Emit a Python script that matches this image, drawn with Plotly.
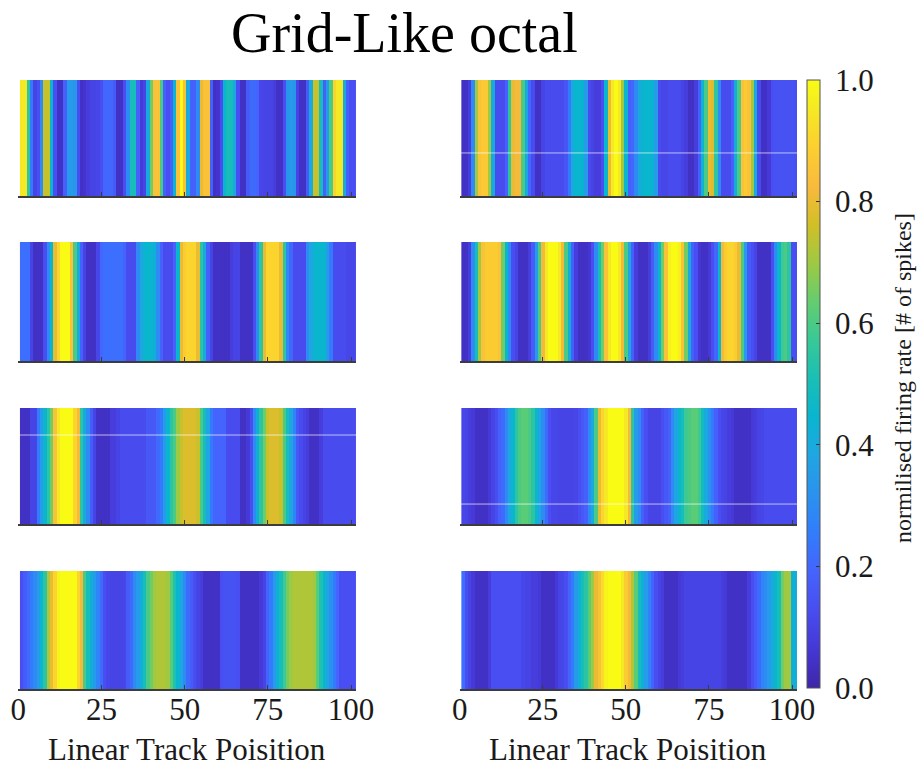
import plotly.graph_objects as go

# Track bins (1 cm each) along the linear track
positions = list(range(1, 102))

# Normalised firing rate per bin for the eight grid-like cells
cell_1 = [0.95, 0.95, 0.55, 0.25, 0.10, 0.13, 0.30, 0.75, 0.75, 0.45,
          0.13, 0.04, 0.04, 0.18, 0.35, 0.35, 0.33, 0.13, 0.04, 0.05,
          0.08, 0.10, 0.10, 0.11, 0.13, 0.20, 0.20, 0.20, 0.17, 0.04,
          0.04, 0.13, 0.30, 0.50, 0.50, 0.18, 0.07, 0.10, 0.40, 0.65,
          0.85, 0.85, 0.60, 0.18, 0.13, 0.18, 0.45, 0.85, 1.00, 0.85,
          0.40, 0.18, 0.18, 0.30, 0.80, 0.85, 0.85, 0.18, 0.04, 0.05,
          0.13, 0.45, 0.50, 0.50, 0.38, 0.13, 0.04, 0.04, 0.17, 0.21,
          0.21, 0.19, 0.11, 0.10, 0.10, 0.10, 0.08, 0.04, 0.04, 0.13,
          0.33, 0.35, 0.33, 0.10, 0.04, 0.04, 0.17, 0.40, 0.75, 0.75,
          0.50, 0.18, 0.35, 0.60, 0.90, 0.95, 0.95, 0.40, 0.18, 0.13,
          0.13]
cell_2 = [0.04, 0.04, 0.08, 0.30, 0.70, 0.85, 0.87, 0.87, 0.70, 0.40,
          0.12, 0.12, 0.12, 0.18, 0.55, 0.80, 0.82, 0.82, 0.60, 0.40,
          0.20, 0.12, 0.04, 0.04, 0.10, 0.12, 0.12, 0.12, 0.12, 0.12,
          0.12, 0.15, 0.25, 0.40, 0.45, 0.45, 0.44, 0.35, 0.12, 0.10,
          0.08, 0.08, 0.13, 0.45, 0.80, 0.95, 1.00, 0.95, 0.70, 0.45,
          0.18, 0.20, 0.30, 0.40, 0.44, 0.45, 0.45, 0.44, 0.35, 0.12,
          0.11, 0.11, 0.12, 0.12, 0.12, 0.12, 0.10, 0.08, 0.04, 0.04,
          0.08, 0.18, 0.45, 0.60, 0.80, 0.78, 0.55, 0.30, 0.12, 0.12,
          0.12, 0.18, 0.40, 0.60, 0.85, 0.87, 0.85, 0.70, 0.40, 0.12,
          0.04, 0.04, 0.07, 0.13, 0.14, 0.14, 0.14, 0.14, 0.14, 0.14,
          0.13]
cell_3 = [0.22, 0.22, 0.22, 0.10, 0.04, 0.04, 0.04, 0.13, 0.30, 0.45,
          0.80, 0.90, 1.00, 1.00, 1.00, 0.85, 0.60, 0.40, 0.18, 0.10,
          0.04, 0.04, 0.04, 0.11, 0.20, 0.22, 0.22, 0.22, 0.22, 0.22,
          0.22, 0.19, 0.12, 0.12, 0.12, 0.30, 0.38, 0.45, 0.45, 0.45,
          0.42, 0.30, 0.18, 0.12, 0.12, 0.12, 0.18, 0.45, 0.80, 0.88,
          0.90, 0.90, 0.90, 0.80, 0.55, 0.40, 0.18, 0.10, 0.04, 0.04,
          0.04, 0.04, 0.04, 0.08, 0.10, 0.10, 0.04, 0.04, 0.04, 0.04,
          0.13, 0.30, 0.55, 0.80, 0.90, 0.90, 0.90, 0.90, 0.80, 0.55,
          0.30, 0.20, 0.12, 0.12, 0.12, 0.12, 0.30, 0.38, 0.45, 0.45,
          0.45, 0.45, 0.35, 0.25, 0.12, 0.12, 0.12, 0.12, 0.11, 0.11,
          0.11]
cell_4 = [0.04, 0.04, 0.08, 0.30, 0.50, 0.70, 0.85, 0.88, 0.88, 0.88,
          0.88, 0.85, 0.65, 0.45, 0.30, 0.13, 0.10, 0.04, 0.04, 0.04,
          0.08, 0.17, 0.35, 0.60, 0.82, 0.95, 1.00, 1.00, 1.00, 0.95,
          0.82, 0.60, 0.42, 0.18, 0.08, 0.04, 0.04, 0.04, 0.06, 0.13,
          0.30, 0.50, 0.65, 0.85, 0.95, 1.00, 1.00, 0.95, 0.82, 0.60,
          0.38, 0.18, 0.08, 0.04, 0.04, 0.04, 0.08, 0.17, 0.30, 0.45,
          0.65, 0.85, 0.97, 1.00, 1.00, 0.97, 0.85, 0.65, 0.40, 0.18,
          0.13, 0.06, 0.04, 0.04, 0.07, 0.13, 0.20, 0.45, 0.82, 0.88,
          0.90, 0.90, 0.88, 0.80, 0.60, 0.35, 0.17, 0.13, 0.10, 0.04,
          0.04, 0.04, 0.04, 0.13, 0.30, 0.45, 0.58, 0.60, 0.55, 0.13,
          0.13]
cell_5 = [0.04, 0.04, 0.04, 0.10, 0.10, 0.25, 0.35, 0.45, 0.55, 0.65,
          0.85, 0.95, 1.00, 1.00, 1.00, 1.00, 0.90, 0.82, 0.55, 0.40,
          0.30, 0.17, 0.10, 0.04, 0.04, 0.04, 0.04, 0.08, 0.08, 0.10,
          0.12, 0.12, 0.12, 0.12, 0.12, 0.12, 0.12, 0.12, 0.16, 0.16,
          0.16, 0.21, 0.25, 0.35, 0.45, 0.55, 0.60, 0.70, 0.75, 0.78,
          0.78, 0.78, 0.78, 0.75, 0.60, 0.50, 0.38, 0.25, 0.19, 0.19,
          0.19, 0.19, 0.12, 0.12, 0.12, 0.12, 0.04, 0.04, 0.07, 0.13,
          0.30, 0.42, 0.55, 0.65, 0.75, 0.78, 0.78, 0.78, 0.75, 0.60,
          0.50, 0.38, 0.28, 0.16, 0.12, 0.10, 0.08, 0.04, 0.04, 0.04,
          0.08, 0.12, 0.12, 0.12, 0.12, 0.12, 0.12, 0.12, 0.12, 0.12,
          0.12]
cell_6 = [0.11, 0.10, 0.08, 0.07, 0.04, 0.04, 0.04, 0.04, 0.07, 0.10,
          0.13, 0.18, 0.21, 0.30, 0.38, 0.45, 0.55, 0.60, 0.62, 0.62,
          0.60, 0.55, 0.45, 0.38, 0.30, 0.21, 0.13, 0.11, 0.11, 0.10,
          0.10, 0.10, 0.10, 0.10, 0.11, 0.13, 0.16, 0.18, 0.30, 0.40,
          0.60, 0.80, 0.90, 0.95, 1.00, 1.00, 1.00, 1.00, 1.00, 0.95,
          0.82, 0.55, 0.35, 0.30, 0.18, 0.13, 0.10, 0.10, 0.10, 0.10,
          0.13, 0.16, 0.18, 0.30, 0.38, 0.45, 0.50, 0.58, 0.60, 0.62,
          0.62, 0.58, 0.48, 0.40, 0.32, 0.25, 0.18, 0.13, 0.11, 0.10,
          0.08, 0.07, 0.04, 0.04, 0.04, 0.04, 0.04, 0.07, 0.08, 0.10,
          0.11, 0.12, 0.12, 0.12, 0.12, 0.12, 0.12, 0.12, 0.12, 0.12,
          0.12]
cell_7 = [0.13, 0.17, 0.21, 0.25, 0.30, 0.35, 0.45, 0.55, 0.72, 0.80,
          0.90, 0.98, 1.00, 1.00, 1.00, 1.00, 1.00, 0.90, 0.82, 0.60,
          0.50, 0.42, 0.35, 0.28, 0.21, 0.13, 0.11, 0.10, 0.10, 0.10,
          0.10, 0.11, 0.17, 0.21, 0.30, 0.35, 0.42, 0.50, 0.60, 0.65,
          0.70, 0.72, 0.72, 0.72, 0.70, 0.62, 0.52, 0.45, 0.38, 0.30,
          0.21, 0.17, 0.13, 0.10, 0.08, 0.04, 0.04, 0.04, 0.04, 0.04,
          0.13, 0.14, 0.14, 0.14, 0.14, 0.13, 0.04, 0.04, 0.04, 0.04,
          0.04, 0.04, 0.07, 0.10, 0.19, 0.25, 0.35, 0.42, 0.50, 0.58,
          0.65, 0.70, 0.72, 0.72, 0.72, 0.72, 0.72, 0.72, 0.70, 0.62,
          0.52, 0.45, 0.38, 0.32, 0.25, 0.19, 0.13, 0.13, 0.13, 0.13,
          0.13]
cell_8 = [0.22, 0.13, 0.10, 0.07, 0.04, 0.04, 0.04, 0.04, 0.08, 0.13,
          0.13, 0.13, 0.13, 0.13, 0.13, 0.13, 0.13, 0.13, 0.11, 0.10,
          0.10, 0.08, 0.08, 0.07, 0.04, 0.04, 0.04, 0.04, 0.07, 0.10,
          0.11, 0.13, 0.19, 0.25, 0.35, 0.42, 0.50, 0.55, 0.62, 0.70,
          0.80, 0.85, 0.92, 0.98, 1.00, 1.00, 1.00, 1.00, 0.95, 0.88,
          0.82, 0.72, 0.62, 0.50, 0.42, 0.35, 0.28, 0.19, 0.13, 0.10,
          0.08, 0.04, 0.04, 0.04, 0.04, 0.07, 0.08, 0.10, 0.10, 0.10,
          0.10, 0.10, 0.10, 0.10, 0.10, 0.10, 0.10, 0.10, 0.08, 0.07,
          0.04, 0.04, 0.04, 0.04, 0.04, 0.04, 0.08, 0.13, 0.17, 0.21,
          0.28, 0.30, 0.35, 0.40, 0.45, 0.50, 0.65, 0.70, 0.70, 0.42,
          0.42]

# Row-major order: (row 1 left, row 1 right, row 2 left, ...)
cells = [cell_1, cell_2, cell_3, cell_4, cell_5, cell_6, cell_7, cell_8]

x_ticks = [0, 25, 50, 75, 100]
cbar_ticks = [0.0, 0.2, 0.4, 0.6, 0.8, 1.0]
cbar_ticktext = ["0.0", "0.2", "0.4", "0.6", "0.8", "1.0"]

# MATLAB parula colour map (sampled)
parula = [
    (0.000, "rgb(62,38,168)"), (0.063, "rgb(69,55,213)"),
    (0.127, "rgb(72,77,240)"), (0.190, "rgb(69,99,253)"),
    (0.254, "rgb(50,124,252)"), (0.317, "rgb(43,145,239)"),
    (0.381, "rgb(32,165,227)"), (0.444, "rgb(8,181,208)"),
    (0.508, "rgb(25,191,182)"), (0.571, "rgb(55,200,151)"),
    (0.635, "rgb(100,205,111)"), (0.698, "rgb(157,201,67)"),
    (0.762, "rgb(209,191,39)"), (0.825, "rgb(248,186,61)"),
    (0.889, "rgb(252,207,48)"), (0.952, "rgb(245,233,36)"),
    (1.000, "rgb(249,251,21)"),
]

W, H = 918, 768
SERIF = "Liberation Serif, Times New Roman, serif"
TEXT = "#1a1a1a"

col_px = [(18.3, 356.0), (459.7, 797.0)]
row_px = [(80, 196), (242, 361), (408, 524), (571, 689)]
x_range = [0, 101.5]

fig = go.Figure()
layout = dict(
    width=W, height=H,
    margin=dict(l=0, r=0, t=0, b=0, autoexpand=False),
    paper_bgcolor="white", plot_bgcolor="white",
    showlegend=False,
    font=dict(family=SERIF, color=TEXT),
)

for i, rates in enumerate(cells):
    r, c = divmod(i, 2)
    k = i + 1
    xs = "" if k == 1 else str(k)
    fig.add_trace(go.Heatmap(
        z=[rates], x=positions, y=[0],
        coloraxis="coloraxis",
        xaxis="x" + xs, yaxis="y" + xs,
        hovertemplate="pos %{x}: %{z:.2f}<extra></extra>",
    ))
    x0, x1 = col_px[c]
    ytop, ybot = row_px[r]
    layout["xaxis" + xs] = dict(
        domain=[x0 / W, x1 / W], range=x_range, anchor="y" + xs,
        showgrid=False, zeroline=False,
        showline=True, linecolor="#3c3c3c", linewidth=1.6,
        ticks="inside", ticklen=4, tickwidth=1.2, tickcolor="#3c3c3c",
        tickvals=x_ticks, ticktext=[str(t) for t in x_ticks],
        showticklabels=(r == 3), ticklabelstandoff=-8,
        tickfont=dict(family=SERIF, size=31, color=TEXT),
    )
    layout["yaxis" + xs] = dict(
        domain=[1 - ybot / H, 1 - ytop / H], range=[-0.5, 0.5],
        anchor="x" + xs, visible=False,
    )

layout["coloraxis"] = dict(
    cmin=0, cmax=1, colorscale=parula,
    colorbar=dict(
        x=807 / W, xanchor="left",
        y=1 - (80 + 688) / 2 / H, yanchor="middle",
        len=(688 - 80) / H, lenmode="fraction",
        thickness=13, thicknessmode="pixels",
        outlinewidth=1, outlinecolor="#555555",
        ticks="inside", ticklen=4, tickcolor="#333333",
        tickvals=cbar_ticks, ticktext=["\u00a0" + t for t in cbar_ticktext],
        tickfont=dict(family=SERIF, size=31, color=TEXT),
        xpad=0, ypad=0,
    ),
)

# faint rendering seams across some of the rasters
seams = [(2, 0.371), (5, 0.767), (6, 0.172)]
shapes = []
for k, yf in seams:
    xs = "" if k == 1 else str(k)
    shapes.append(dict(
        type="line", xref="x" + xs + " domain", yref="y" + xs + " domain",
        x0=0, x1=1, y0=yf, y1=yf,
        line=dict(color="rgba(255,255,255,0.65)", width=1),
    ))
layout["shapes"] = shapes

annotations = [
    dict(text="Grid-Like octal", x=404 / W, y=1 - 33 / H,
         xref="paper", yref="paper", xanchor="center", yanchor="middle",
         showarrow=False, font=dict(family=SERIF, size=56, color="black")),
    dict(text="normilised firing rate [# of spikes]", x=903 / W, y=1 - 378 / H,
         xref="paper", yref="paper", xanchor="center", yanchor="middle",
         textangle=-90, showarrow=False,
         font=dict(family=SERIF, size=24, color=TEXT)),
]
for c in range(2):
    x0, x1 = col_px[c]
    annotations.append(dict(
        text="Linear Track Poisition", x=(x0 + x1) / 2 / W, y=1 - 749 / H,
        xref="paper", yref="paper", xanchor="center", yanchor="middle",
        showarrow=False, font=dict(family=SERIF, size=31, color=TEXT)))
layout["annotations"] = annotations

fig.update_layout(**layout)
fig.write_html("out.html")
